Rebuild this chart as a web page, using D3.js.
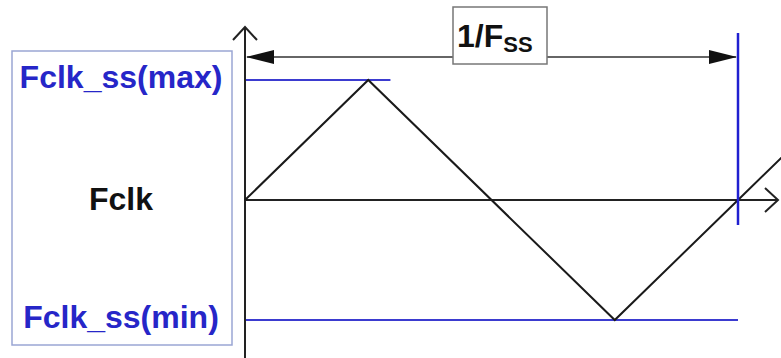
<!DOCTYPE html>
<html>
<head>
<meta charset="utf-8">
<script src="https://cdn.jsdelivr.net/npm/d3@7"></script>
<style>
  body { margin: 0; background: #fff; }
  text { font-family: "Liberation Sans", Arial, sans-serif; font-weight: bold; }
</style>
</head>
<body>
<div id="chart"></div>
<script>
const width = 781
const height = 358

// waveform: time in periods (1/Fss), frequency relative to Fclk (-1 = min, +1 = max)
const waveT = [0, 0.25, 0.75, 1, 1.1]
const waveF = [0, 1, -1, 0, 0.4]

const levelLabels = ["Fclk_ss(max)", "Fclk", "Fclk_ss(min)"]
const levelValues = [1, 0, -1]
const levelColors = ["#2626c8", "#111", "#2626c8"]
const levelLineEnd = [0.295, null, 1]   // where the blue guide lines stop (in periods)

const periodLabel = "1/F"
const periodSub = "SS"

var svg = d3.select("#chart")
    .append("svg")
    .attr("width", width)
    .attr("height", height)

var x = d3.scaleLinear().domain([0, 1]).range([245, 738])
var y = d3.scaleLinear().domain([-1, 1]).range([320, 80])

var defs = svg.append("defs")
defs.append("marker")
    .attr("id", "solid")
    .attr("viewBox", "0 0 28 16")
    .attr("refX", 27).attr("refY", 8)
    .attr("markerWidth", 28).attr("markerHeight", 16)
    .attr("markerUnits", "userSpaceOnUse")
    .attr("orient", "auto-start-reverse")
    .append("path")
    .attr("d", "M0,1 L28,8 L0,15 Z")
    .attr("fill", "#111")
defs.append("marker")
    .attr("id", "open")
    .attr("viewBox", "0 0 16 26")
    .attr("refX", 14).attr("refY", 13)
    .attr("markerWidth", 16).attr("markerHeight", 26)
    .attr("markerUnits", "userSpaceOnUse")
    .attr("orient", "auto")
    .append("path")
    .attr("d", "M1,1 L14,13 L1,25")
    .attr("fill", "none")
    .attr("stroke", "#222")
    .attr("stroke-width", 2)

// label box on the left
svg.append("rect")
    .attr("x", 12).attr("y", 51)
    .attr("width", 220).attr("height", 294)
    .attr("fill", "none")
    .attr("stroke", "#9aa6d4")
    .attr("stroke-width", 1.5)

svg.selectAll(".lvl")
    .data(levelLabels)
    .enter()
    .append("text")
    .attr("class", "lvl")
    .attr("x", 121)
    .attr("y", (d, i) => y(levelValues[i]) + (i == 1 ? 10 : 8))
    .attr("text-anchor", "middle")
    .attr("font-size", 32)
    .attr("fill", (d, i) => levelColors[i])
    .text(d => d)

// guide lines for max / min
svg.selectAll(".guide")
    .data([0, 2])
    .enter()
    .append("line")
    .attr("x1", x(0))
    .attr("x2", i => x(levelLineEnd[i]))
    .attr("y1", i => y(levelValues[i]))
    .attr("y2", i => y(levelValues[i]))
    .attr("stroke", "#3b3bd0")
    .attr("stroke-width", 2)

// axes
svg.append("line")
    .attr("x1", x(0)).attr("x2", x(0))
    .attr("y1", height).attr("y2", 27)
    .attr("stroke", "#222").attr("stroke-width", 2)
    .attr("marker-end", "url(#open)")
svg.append("line")
    .attr("x1", x(0)).attr("x2", 778)
    .attr("y1", y(0)).attr("y2", y(0))
    .attr("stroke", "#222").attr("stroke-width", 2)
    .attr("marker-end", "url(#open)")

// triangle modulation
var line = d3.line()
    .x((d, i) => x(waveT[i]))
    .y((d, i) => y(waveF[i]))
svg.append("path")
    .datum(waveT)
    .attr("d", line)
    .attr("fill", "none")
    .attr("stroke", "#1a1a1a")
    .attr("stroke-width", 2)

// end of period marker
svg.append("line")
    .attr("x1", x(1)).attr("x2", x(1))
    .attr("y1", 33).attr("y2", 225)
    .attr("stroke", "#2020d0").attr("stroke-width", 2.5)

// period arrow
svg.append("line")
    .attr("x1", x(0) + 2).attr("x2", x(1) - 2)
    .attr("y1", 57).attr("y2", 57)
    .attr("stroke", "#333").attr("stroke-width", 1.5)
    .attr("marker-start", "url(#solid)")
    .attr("marker-end", "url(#solid)")

svg.append("rect")
    .attr("x", 453).attr("y", 7)
    .attr("width", 94).attr("height", 57)
    .attr("fill", "#fff")
    .attr("stroke", "#777")
    .attr("stroke-width", 1.5)
var t = svg.append("text")
    .attr("x", 457).attr("y", 47)
    .attr("font-size", 32)
    .attr("fill", "#111")
t.append("tspan").text(periodLabel)
t.append("tspan").attr("font-size", 22).attr("dy", 5).text(periodSub)
</script>
</body>
</html>
